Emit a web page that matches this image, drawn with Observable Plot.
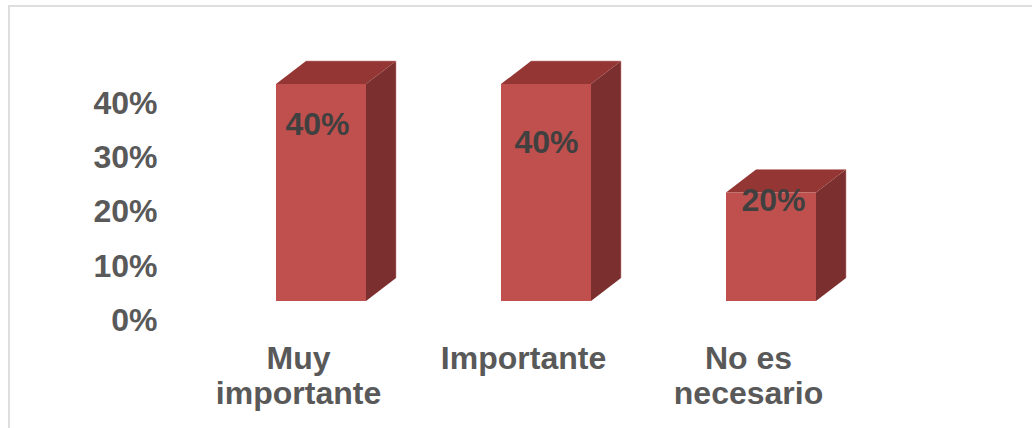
<!DOCTYPE html>
<html>
<head>
<meta charset="utf-8">
<script src="https://cdn.jsdelivr.net/npm/d3@7"></script>
<script src="https://cdn.jsdelivr.net/npm/@observablehq/plot@0.6"></script>
<style>
  html, body { margin: 0; padding: 0; background: #fff; }
  #wrap { position: relative; width: 1032px; height: 428px; overflow: hidden; }
  #frame { position: absolute; left: 8px; top: 5px; width: 1100px; height: 500px;
           border: 2px solid #dedede; box-sizing: border-box; }
  #chart { position: absolute; left: 0; top: 0; }
</style>
</head>
<body>
<div id="wrap"><div id="frame"></div><div id="chart"></div></div>
<script>
const categories = ["Muy importante", "Importante", "No es necesario"];
const categoryLabels = ["Muy\nimportante", "Importante", "No es\nnecesario"];
const values = [0.40, 0.40, 0.20];
const yTicks = [0, 0.1, 0.2, 0.3, 0.4];

const data = categories.map((c, i) => ({cat: c, label: categoryLabels[i], v: values[i]}));

const FRONT = "#C0504D", TOP = "#943634", SIDE = "#7B2F2E";
const DX = 30, DY = -23, LIFT = -19;
const font = "Liberation Sans, Arial, sans-serif";

function faces(index, scales) {
  const x = scales.x, y = scales.y;
  const bw = typeof x.bandwidth === "function" ? x.bandwidth() : x.bandwidth;
  const g = d3.create("svg:g");
  for (const d of data) {
    const x0 = x(d.cat), x1 = x0 + bw;
    const yt = y(d.v) + LIFT, yb = y(0) + LIFT;
    g.append("path")
      .attr("d", `M${x1},${yt}L${x1 + DX},${yt + DY}L${x1 + DX},${yb + DY}L${x1},${yb}Z`)
      .attr("fill", SIDE);
    g.append("path")
      .attr("d", `M${x0},${yt}L${x0 + DX},${yt + DY}L${x1 + DX},${yt + DY}L${x1},${yt}Z`)
      .attr("fill", TOP);
    g.append("path")
      .attr("d", `M${x0 + DX},${yt + DY}L${x1 + DX},${yt + DY}L${x1 + DX},${yb + DY}`)
      .attr("fill", "none").attr("stroke", "#c98a88").attr("stroke-width", 0.8).attr("stroke-opacity", 0.7);
  }
  return g.node();
}

const valueDy = [40, 58, 8];
const valueDx = [-4, 0, 2];

const chart = Plot.plot({
  width: 1032,
  height: 428,
  marginLeft: 140,
  marginRight: 80,
  marginTop: 103,
  marginBottom: 108,
  style: {fontFamily: font, background: "transparent"},
  x: {type: "band", domain: categories, padding: 0.6, axis: null},
  y: {domain: [0, 0.4], axis: null},
  marks: [
    faces,
    Plot.barY(data, {x: "cat", y: "v", fill: FRONT, dy: LIFT}),
    ...data.map((d, i) => Plot.text([d], {
      x: "cat", y: "v", text: dd => Math.round(dd.v * 100) + "%",
      dy: LIFT + valueDy[i], dx: valueDx[i], fontSize: 32, fontWeight: "bold", fill: "#404040"
    })),
    Plot.axisY(yTicks, {
      tickSize: 0, tickPadding: 0, dx: 17,
      tickFormat: d => Math.round(d * 100) + "%",
      fontSize: 32, fontWeight: "bold", fill: "#595959", label: null
    }),
    Plot.text(data, {
      x: "cat", y: () => 0, text: "label", lineAnchor: "top", lineHeight: 1.1,
      dy: 23, dx: -23, fontSize: 32, fontWeight: "bold", fill: "#595959"
    })
  ]
});
document.getElementById("chart").appendChild(chart);
</script>
</body>
</html>
